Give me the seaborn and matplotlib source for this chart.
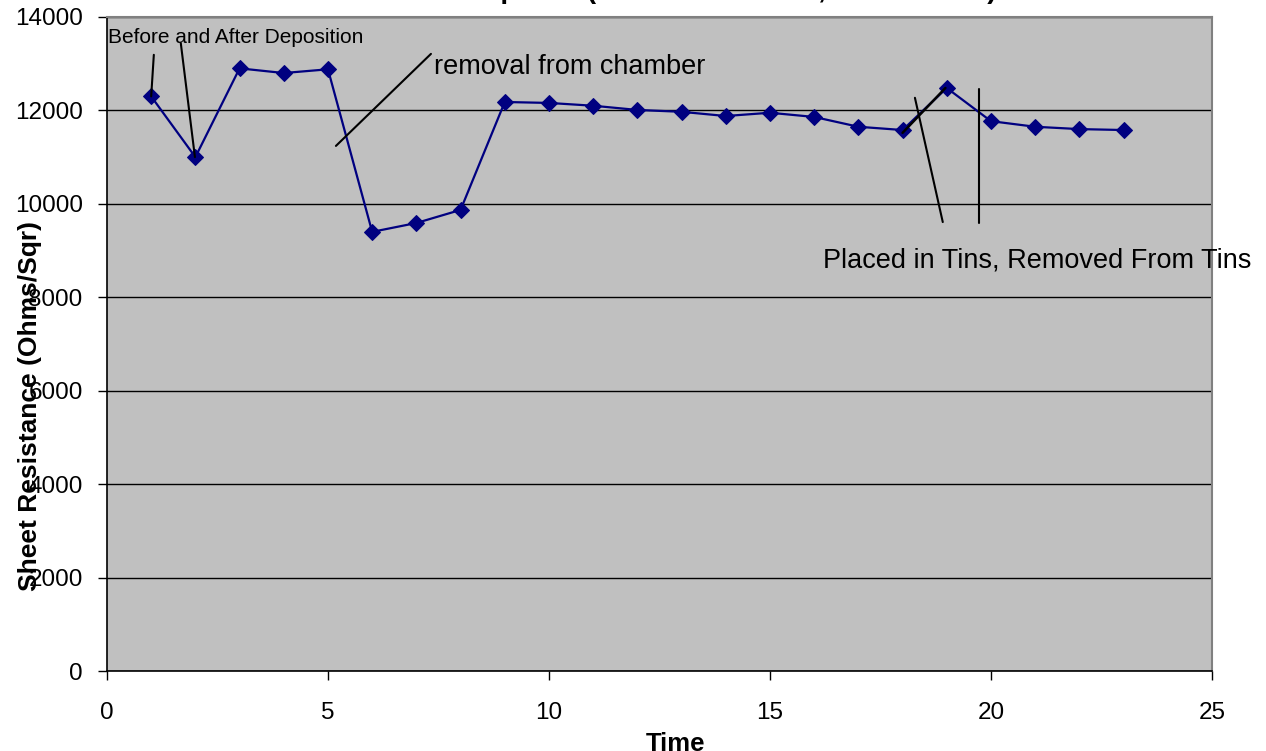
import matplotlib
matplotlib.use("Agg")
import matplotlib.pyplot as plt
import pandas as pd
import seaborn as sns

# readings
time = [1, 2, 3, 4, 5, 6, 7, 8, 9, 10, 11, 12, 13, 14, 15, 16, 17, 18, 19, 20, 21, 22, 23]
resistance = [12300, 11000, 12900, 12800, 12880, 9400, 9590, 9870, 12180, 12160,
              12100, 12010, 11970, 11880, 11950, 11860, 11650, 11580, 12480, 11770,
              11650, 11600, 11580]

x_ticks = [0, 5, 10, 15, 20, 25]
y_ticks = [0, 2000, 4000, 6000, 8000, 10000, 12000, 14000]

title = "Sheet Resistance of Sample #1 (Unannealed Film, Time Test A)"
y_label = "Sheet Resistance (Ohms/Sqr)"
x_label = "Time"

sns.set_theme(style="white")
plt.rcParams["font.family"] = ["Liberation Sans", "DejaVu Sans"]
plt.rcParams["text.color"] = "black"
plt.rcParams["xtick.color"] = "black"
plt.rcParams["ytick.color"] = "black"
plt.rcParams["axes.labelcolor"] = "black"


def plot_resistance():
    df = pd.DataFrame({"time": time, "resistance": resistance})

    fig = plt.figure(figsize=(12.66, 7.51), dpi=100)
    ax = fig.add_axes([0.0845, 0.1065, 0.8728, 0.8709])
    ax.set_facecolor("#C0C0C0")

    sns.lineplot(data=df, x="time", y="resistance", ax=ax, color="#000080",
                 linewidth=1.6, marker="D", markersize=8, markeredgecolor="#000080")

    ax.set_xlim(0, 25)
    ax.set_ylim(0, 14000)
    ax.set_xticks(x_ticks)
    ax.set_yticks(y_ticks)
    ax.yaxis.grid(True, color="black", linewidth=1.0)
    ax.set_axisbelow(True)
    ax.set_xlabel("")
    ax.set_ylabel("")

    for side in ["left", "bottom"]:
        ax.spines[side].set_color("black")
        ax.spines[side].set_linewidth(1.2)
    for side in ["top", "right"]:
        ax.spines[side].set_color("#808080")
        ax.spines[side].set_linewidth(1.5)

    ax.tick_params(axis="y", direction="out", length=6.5, width=1,
                   labelsize=17.5, pad=11, left=True)
    ax.tick_params(axis="x", direction="out", length=6.5, width=1,
                   labelsize=17.5, pad=16, bottom=True)

    # annotations drawn by hand on the original chart
    ax.text(0.02, 13570, "Before and After Deposition", fontsize=15, va="center")
    ax.plot([1.06, 1.0], [13190, 12300], color="black", linewidth=1.5)
    ax.plot([1.67, 1.99], [13440, 11000], color="black", linewidth=1.5)

    ax.text(7.4, 12930, "removal from chamber", fontsize=19.5, va="center")
    ax.plot([7.33, 5.18], [13210, 11240], color="black", linewidth=1.5)

    ax.plot([18.0, 18.97], [11520, 12480], color="black", linewidth=1.8)
    ax.plot([18.28, 18.91], [12270, 9610], color="black", linewidth=1.5)
    ax.plot([19.73, 19.73], [12460, 9590], color="black", linewidth=1.5)
    ax.text(16.2, 8780, "Placed in Tins, Removed From Tins", fontsize=19.5,
            va="center", clip_on=False)

    fig.text(583 / 1266, 1.002, title, fontsize=20, fontweight="bold",
             ha="center", va="baseline")
    fig.text(30 / 1266, 1 - 406 / 751, y_label, fontsize=19, fontweight="bold",
             rotation=90, ha="center", va="center")
    fig.text(675 / 1266, 0.0, x_label, fontsize=18.5, fontweight="bold",
             ha="center", va="baseline")

    fig.savefig("out.png", dpi=100)
    plt.close(fig)


if __name__ == "__main__":
    plot_resistance()
